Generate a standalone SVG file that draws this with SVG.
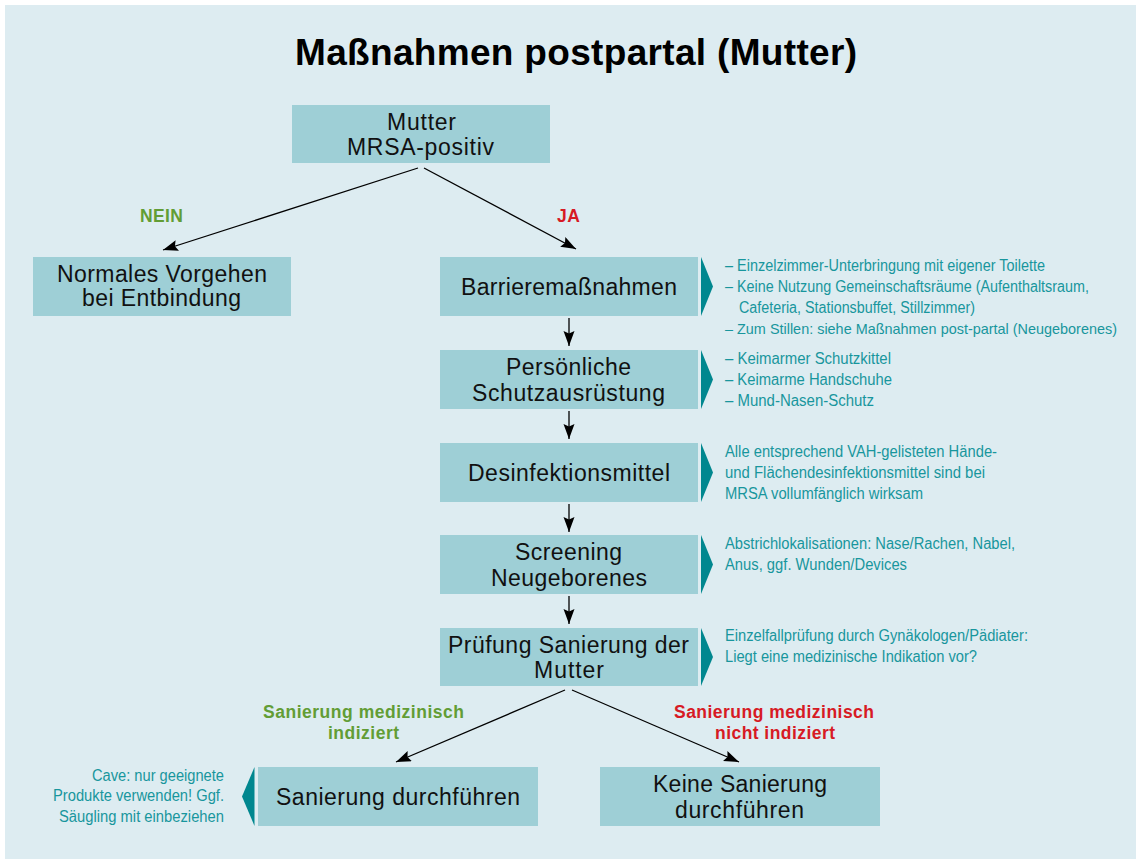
<svg xmlns="http://www.w3.org/2000/svg" width="1136" height="859" viewBox="0 0 1136 859">
<defs>
<style>
.bg{fill:#ddecf1}
.node{fill:#9ecfd6}
.ptr{fill:#00878f}
.lbl{font-family:"Liberation Sans",Arial,sans-serif;font-size:23px;fill:#111;text-anchor:start}
.title{font-family:"Liberation Sans",Arial,sans-serif;font-size:37px;font-weight:bold;fill:#000}
.side{font-family:"Liberation Sans Narrow","Liberation Sans",Arial,sans-serif;font-stretch:condensed;font-size:16px;fill:#18969d}
.yes{font-family:"Liberation Sans",Arial,sans-serif;font-size:17.5px;font-weight:bold;fill:#d71a24}
.no{font-family:"Liberation Sans",Arial,sans-serif;font-size:17.5px;font-weight:bold;fill:#629d35}
.conn{stroke:#000;stroke-width:1.3;fill:none;marker-end:url(#ah)}
</style>
<marker id="ah" markerUnits="userSpaceOnUse" markerWidth="17" markerHeight="12" refX="15" refY="5.5" orient="auto">
<path d="M0,0 L15,5.5 L0,11 L2.5,5.5 Z" fill="#000"/>
</marker>
</defs>
<rect class="bg" x="5" y="5" width="1131" height="854"/>
<text class="title" x="295" y="65" textLength="562">Maßnahmen postpartal (Mutter)</text>

<g id="connectors">
<line class="conn" x1="418" y1="168" x2="163" y2="250"/>
<line class="conn" x1="424" y1="168" x2="576" y2="249"/>
<line class="conn" x1="569" y1="318" x2="569" y2="346"/>
<line class="conn" x1="569" y1="411" x2="569" y2="439"/>
<line class="conn" x1="569" y1="504" x2="569" y2="532"/>
<line class="conn" x1="569" y1="596" x2="569" y2="624"/>
<line class="conn" x1="565" y1="690" x2="396" y2="762"/>
<line class="conn" x1="572" y1="690" x2="739" y2="762"/>
<text class="no" x="140" y="222" textLength="43">NEIN</text>
<text class="yes" x="557" y="222" textLength="23">JA</text>
<text class="no" x="263" y="718" textLength="201">Sanierung medizinisch</text>
<text class="no" x="328" y="739" textLength="71">indiziert</text>
<text class="yes" x="674" y="718" textLength="200">Sanierung medizinisch</text>
<text class="yes" x="715" y="739" textLength="120">nicht indiziert</text>
</g>

<g id="n-mutter">
<rect class="node" x="292" y="105" width="258" height="58"/>
<text class="lbl" x="387" y="130" textLength="69">Mutter</text>
<text class="lbl" x="347" y="155" textLength="147">MRSA-positiv</text>
</g>

<g id="n-normal">
<rect class="node" x="33" y="257" width="258" height="59"/>
<text class="lbl" x="57" y="282" textLength="210">Normales Vorgehen</text>
<text class="lbl" x="82" y="306" textLength="159">bei Entbindung</text>
</g>

<g id="n-barriere">
<rect class="node" x="440" y="257" width="258" height="59"/>
<polygon class="ptr" points="701,257 713,286.5 701,316"/>
<text class="lbl" x="461" y="295" textLength="216">Barrieremaßnahmen</text>
<text class="side" x="725" y="270.5" textLength="320" lengthAdjust="spacingAndGlyphs">– Einzelzimmer-Unterbringung mit eigener Toilette</text>
<text class="side" x="725" y="291.5" textLength="364" lengthAdjust="spacingAndGlyphs">– Keine Nutzung Gemeinschaftsräume (Aufenthaltsraum,</text>
<text class="side" x="739" y="312.5" textLength="236" lengthAdjust="spacingAndGlyphs">Cafeteria, Stationsbuffet, Stillzimmer)</text>
<text class="side" x="725" y="333.5" textLength="392" lengthAdjust="spacingAndGlyphs" style="font-size:15px">– Zum Stillen: siehe Maßnahmen post-partal (Neugeborenes)</text>
</g>

<g id="n-psa">
<rect class="node" x="440" y="350" width="258" height="59"/>
<polygon class="ptr" points="701,350 713,379.5 701,409"/>
<text class="lbl" x="506" y="375" textLength="125">Persönliche</text>
<text class="lbl" x="472" y="400.5" textLength="193">Schutzausrüstung</text>
<text class="side" x="725" y="363.5" textLength="166" lengthAdjust="spacingAndGlyphs">– Keimarmer Schutzkittel</text>
<text class="side" x="725" y="384.5" textLength="167" lengthAdjust="spacingAndGlyphs">– Keimarme Handschuhe</text>
<text class="side" x="725" y="405.5" textLength="149" lengthAdjust="spacingAndGlyphs">– Mund-Nasen-Schutz</text>
</g>

<g id="n-desinf">
<rect class="node" x="440" y="443" width="258" height="59"/>
<polygon class="ptr" points="701,443 713,472.5 701,502"/>
<text class="lbl" x="468" y="481" textLength="202">Desinfektionsmittel</text>
<text class="side" x="725" y="456.5" textLength="272" lengthAdjust="spacingAndGlyphs">Alle entsprechend VAH-gelisteten Hände-</text>
<text class="side" x="725" y="477.5" textLength="260" lengthAdjust="spacingAndGlyphs">und Flächendesinfektionsmittel sind bei</text>
<text class="side" x="725" y="498.5" textLength="198" lengthAdjust="spacingAndGlyphs">MRSA vollumfänglich wirksam</text>
</g>

<g id="n-screening">
<rect class="node" x="440" y="535" width="258" height="59"/>
<polygon class="ptr" points="701,535 713,564.5 701,594"/>
<text class="lbl" x="515" y="560" textLength="107">Screening</text>
<text class="lbl" x="491" y="586" textLength="156">Neugeborenes</text>
<text class="side" x="725" y="548.5" textLength="290" lengthAdjust="spacingAndGlyphs">Abstrichlokalisationen: Nase/Rachen, Nabel,</text>
<text class="side" x="725" y="569.5" textLength="182" lengthAdjust="spacingAndGlyphs">Anus, ggf. Wunden/Devices</text>
</g>

<g id="n-pruefung">
<rect class="node" x="440" y="628" width="258" height="58"/>
<polygon class="ptr" points="701,628 713,657 701,686"/>
<text class="lbl" x="448" y="652.5" textLength="241">Prüfung Sanierung der</text>
<text class="lbl" x="534" y="677.5" textLength="70">Mutter</text>
<text class="side" x="725" y="640.5" textLength="303" lengthAdjust="spacingAndGlyphs">Einzelfallprüfung durch Gynäkologen/Pädiater:</text>
<text class="side" x="725" y="661.5" textLength="252" lengthAdjust="spacingAndGlyphs">Liegt eine medizinische Indikation vor?</text>
</g>

<g id="n-sanierung">
<rect class="node" x="258" y="767" width="280" height="59"/>
<polygon class="ptr" points="254.5,767 242,796.5 254.5,826"/>
<text class="lbl" x="276" y="805" textLength="244">Sanierung durchführen</text>
<text class="side" x="92" y="780.5" textLength="132" lengthAdjust="spacingAndGlyphs">Cave: nur geeignete</text>
<text class="side" x="53" y="801" textLength="171" lengthAdjust="spacingAndGlyphs">Produkte verwenden! Ggf.</text>
<text class="side" x="59" y="821.5" textLength="165" lengthAdjust="spacingAndGlyphs">Säugling mit einbeziehen</text>
</g>

<g id="n-keine">
<rect class="node" x="600" y="767" width="280" height="59"/>
<text class="lbl" x="653" y="792" textLength="174">Keine Sanierung</text>
<text class="lbl" x="675" y="817.5" textLength="129">durchführen</text>
</g>
</svg>
